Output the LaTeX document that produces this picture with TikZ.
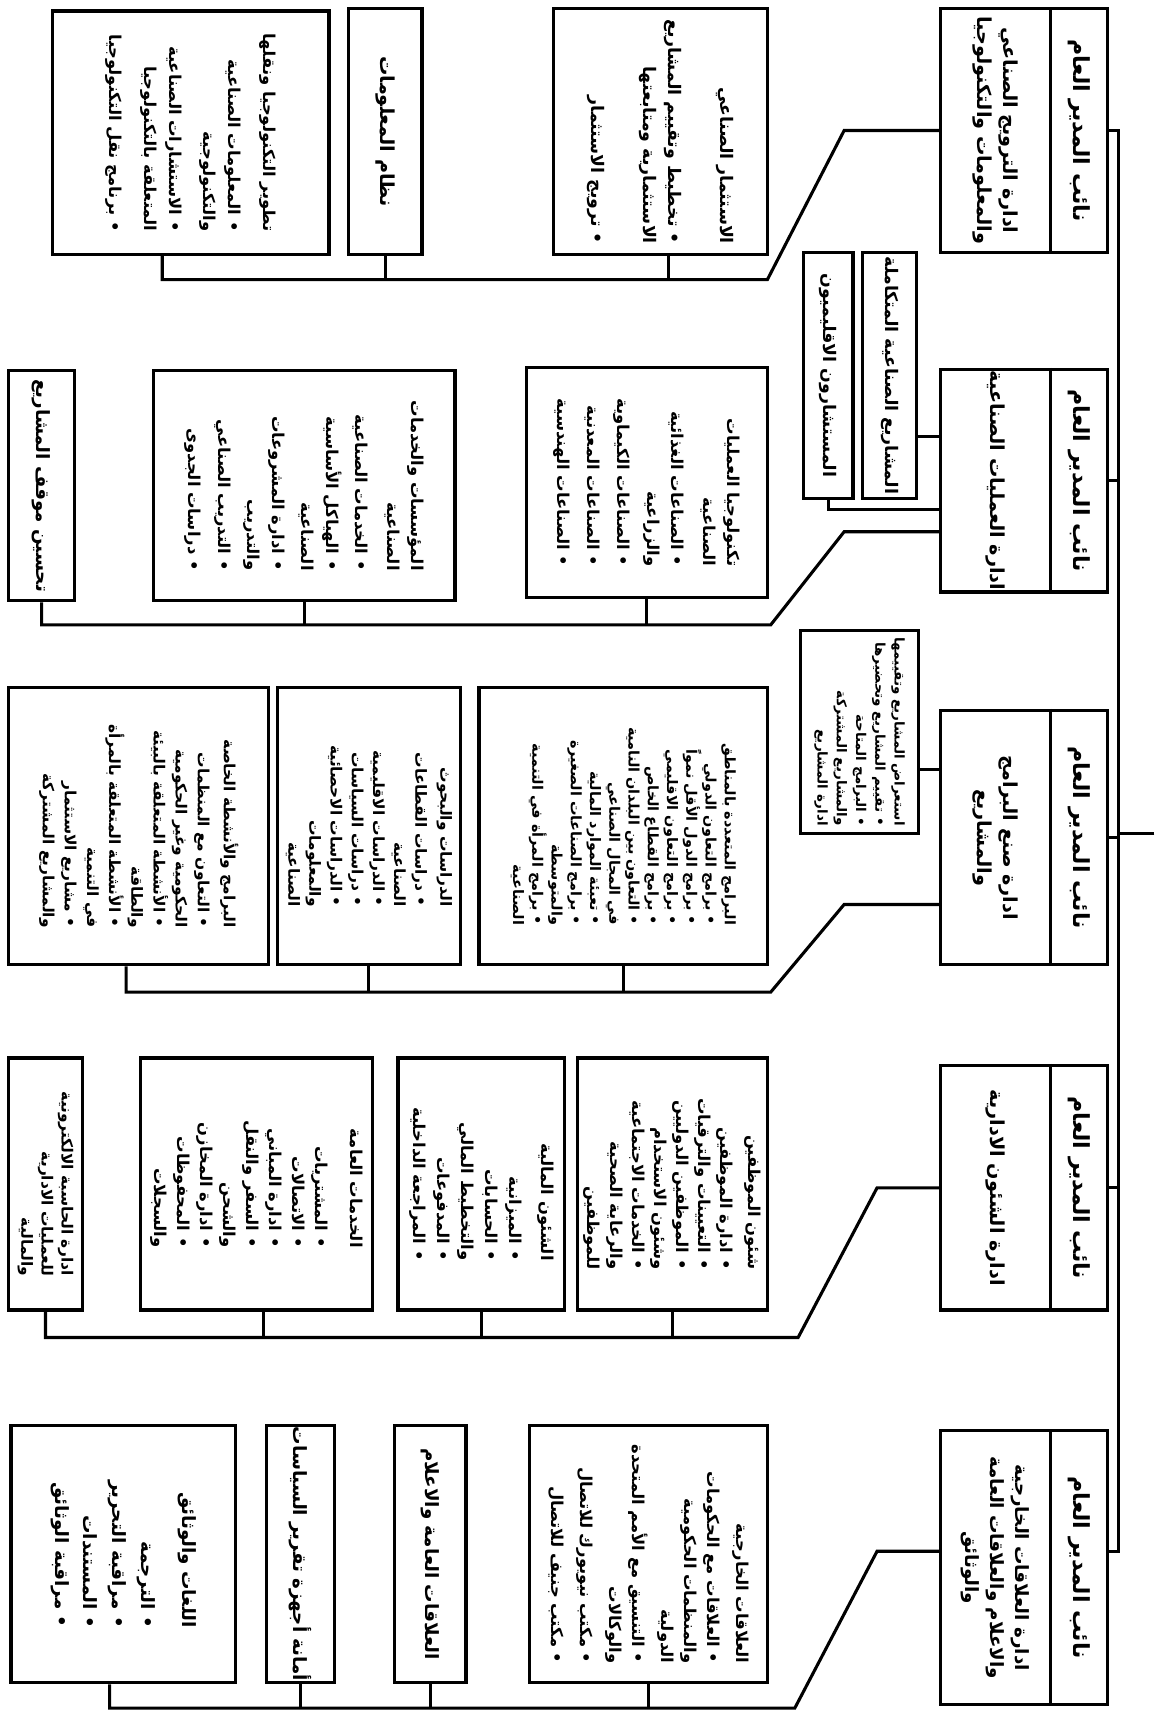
\documentclass[tikz,border=0pt]{standalone}
\usepackage{fontspec}
\newfontfamily\arabicfont[Script=Arabic]{DejaVu Sans}
\TeXXeTstate=1
\usetikzlibrary{fit}
\newcommand{\arl}[1]{\beginR #1\endR}
\tikzset{
  bx/.style={draw, line width=1.7pt, inner sep=0pt},
  ln/.style={line width=1.6pt},
  sz/.style 2 args={font=\arabicfont\bfseries\fontsize{#1}{#2}\selectfont},
  tx/.style={rotate=-90, align=right, inner sep=0pt, sz={8.5}{12}},
  hd/.style={rotate=-90, align=center, inner sep=0pt, sz={11.5}{14}},
  dp/.style={rotate=-90, align=center, inner sep=0pt, sz={10}{14}},
}
\begin{document}
\begin{tikzpicture}[x=0.02cm,y=-0.02cm]
\useasboundingbox (0,0) rectangle (1053,1568);
\coordinate (dv) at (958,0);
\coordinate (hx) at (984,0);
\coordinate (dx) at (908,0);
\coordinate (trunk) at (1020,0);
\coordinate (ext) at (1053,760);

% ---- deputy director boxes
\foreach \n/\ya/\yb in {1/8/230,2/337/540,3/648/880,4/972/1195,5/1305/1555}{
  \node[bx, fit={(858,\ya) (1010,\yb)}] (v\n) {};
  \draw[ln] (v\n.north -| dv) -- (v\n.south -| dv);
  \node[hd] (vh\n) at (v\n.center -| hx) {\arl{نائب المدير العام}};
}
\node[dp] (vd1) at (v1.center -| dx) {\arl{ادارة الترويج الصناعي}\\\arl{والمعلومات والتكنولوجيا}};
\node[dp] (vd2) at (v2.center -| dx) {\arl{ادارة العمليات الصناعية}};
\node[dp] (vd3) at (v3.center -| dx) {\arl{ادارة صنع البرامج}\\\arl{والمشاريع}};
\node[dp] (vd4) at (v4.center -| dx) {\arl{ادارة الشئون الادارية}};
\node[dp, sz={9.5}{13}] (vd5) at (v5.center -| dx) {\arl{ادارة العلاقات الخارجية}\\\arl{والاعلام والعلاقات العامة}\\\arl{والوثائق}};

% ---- trunk
\coordinate (t5) at ([yshift=0.3cm]v5.east);
\draw[ln] (v1.east) -- (v1.east -| trunk) -- (t5 -| trunk) -- (t5);
\foreach \n in {2,3,4}{ \draw[ln] (v\n.east) -- (v\n.east -| trunk); }
\draw[ln] (ext) -- (ext -| trunk);

% ---- row 1
\node[bx, fit={(505,8) (700,232)}] (r1a) {};
\node[bx, fit={(318,8) (385,232)}] (r1b) {};
\node[bx, fit={(48,10) (300,232)}] (r1c) {};
\node[tx, sz={9}{13}] (r1at) at (r1a.center) {\arl{الاستثمار الصناعي}\\[14pt]\arl{• تخطيط وتقييم المشاريع}\\\arl{الاستثمارية ومتابعتها}\\[14pt]\arl{• ترويج الاستثمار}};
\node[tx, sz={10}{13}] (r1bt) at (r1b.center) {\arl{نظام المعلومات}};
\node[tx, sz={8.5}{13}] (r1ct) at (r1c.center) {\arl{تطوير التكنولوجيا ونقلها}\\[5pt]\arl{• المعلومات الصناعية}\\\arl{والتكنولوجية}\\[5pt]\arl{• الاستشارات الصناعية}\\\arl{المتعلقة بالتكنولوجيا}\\[5pt]\arl{• برنامج نقل التكنولوجيا}};
\coordinate (j1) at (700,255);
\coordinate (k1) at (770,119);
\draw[ln] ([xshift=-0.52cm]r1c.south) |- (j1) -- (k1) -- (k1 -| v1.west);
\draw[ln] ([xshift=0.15cm]r1a.south) -- ([xshift=0.15cm]r1a.south |- j1);
\draw[ln] (r1b.south) -- (r1b.south |- j1);

% ---- row 2
\node[bx, fit={(480,335) (700,545)}] (r2a) {};
\node[bx, fit={(140,338) (415,548)}] (r2b) {};
\node[bx, fit={(8,338) (68,548)}] (r2c) {};
\node[bx, fit={(787,230) (836,455)}] (s2a) {};
\node[bx, fit={(733,230) (778,455)}] (s2b) {};
\node[tx, sz={8.5}{12.5}] (r2at) at (r2a.center) {\arl{تكنولوجيا العمليات}\\\arl{الصناعية}\\[4pt]\arl{• الصناعات الغذائية}\\\arl{والزراعية}\\[3pt]\arl{• الصناعات الكيماوية}\\[3pt]\arl{• الصناعات المعدنية}\\[3pt]\arl{• الصناعات الهندسية}};
\node[tx, sz={8.5}{12.5}] (r2bt) at (r2b.center) {\arl{المؤسسات والخدمات}\\\arl{الصناعية}\\[4pt]\arl{• الخدمات الصناعية}\\[3pt]\arl{• الهياكل الأساسية}\\\arl{الصناعية}\\[3pt]\arl{• ادارة المشروعات}\\\arl{والتدريب}\\[3pt]\arl{• التدريب الصناعي}\\[3pt]\arl{• دراسات الجدوى}};
\node[tx, sz={9.5}{13}] (r2ct) at (r2c.center) {\arl{تحسين موقف المشاريع}};
\node[tx, sz={9}{13}] (s2at) at (s2a.center) {\arl{المشاريع الصناعية المتكاملة}};
\node[tx, sz={9}{13}] (s2bt) at (s2b.center) {\arl{المستشارون الاقليميون}};
\coordinate (j2) at (703,570);
\coordinate (k2) at (770,485);
\draw[ln] (r2c.south) |- (j2) -- (k2) -- (k2 -| v2.west);
\draw[ln] (r2a.south) -- (r2a.south |- j2);
\draw[ln] (r2b.south) -- (r2b.south |- j2);
\coordinate (t2a) at ([yshift=-1.11cm]s2a.east);
\draw[ln] (t2a) -- (t2a -| v2.west);
\draw[ln] (s2b.south) |- ([yshift=-0.53cm]v2.west);

% ---- row 3
\node[bx, fit={(437,627) (700,880)}] (r3a) {};
\node[bx, fit={(253,627) (420,880)}] (r3b) {};
\node[bx, fit={(8,627) (245,880)}] (r3c) {};
\node[bx, fit={(730,575) (838,760)}] (s3) {};
\node[tx, sz={7.5}{10}] (r3at) at (r3a.center) {\arl{البرامج المتعددة بالمناطق}\\\arl{• برامج التعاون الدولي}\\\arl{• برامج الدول الأقل نمواً}\\\arl{• برامج التعاون الاقليمي}\\\arl{• برامج القطاع الخاص}\\\arl{• التعاون بين البلدان النامية}\\\arl{في المجال الصناعي}\\\arl{• تعبئة الموارد المالية}\\\arl{• برامج الصناعات الصغيرة}\\\arl{والمتوسطة}\\\arl{• برامج المرأة في التنمية}\\\arl{الصناعية}};
\node[tx, sz={8}{11}] (r3bt) at (r3b.center) {\arl{الدراسات والبحوث}\\[2pt]\arl{• دراسات القطاعات}\\\arl{الصناعية}\\\arl{• الدراسات الاقليمية}\\\arl{• دراسات السياسات}\\\arl{• الدراسات الاحصائية}\\\arl{والمعلومات}\\\arl{الصناعية}};
\node[tx, sz={8}{11.5}] (r3ct) at (r3c.center) {\arl{البرامج والأنشطة الخاصة}\\[2pt]\arl{• التعاون مع المنظمات}\\\arl{الحكومية وغير الحكومية}\\\arl{• الأنشطة المتعلقة بالبيئة}\\\arl{والطاقة}\\\arl{• الأنشطة المتعلقة بالمرأة}\\\arl{في التنمية}\\\arl{• مشاريع الاستثمار}\\\arl{والمشاريع المشتركة}};
\node[tx, sz={7}{10}] (s3t) at (s3.center) {\arl{استعراض المشاريع وتقييمها}\\\arl{• تقييم المشاريع وتحضيرها}\\\arl{• البرامج المتاحة}\\\arl{والمشاريع المشتركة}\\\arl{ادارة المشاريع}};
\coordinate (j3) at (703,905);
\coordinate (k3) at (770,825);
\draw[ln] ([xshift=-0.23cm]r3c.south) |- (j3) -- (k3) -- (k3 -| v3.west);
\draw[ln] (r3a.south) -- (r3a.south |- j3);
\draw[ln] (r3b.south) -- (r3b.south |- j3);
\coordinate (t3) at ([yshift=-0.69cm]s3.east);
\draw[ln] (t3) -- (t3 -| v3.west);

% ---- row 4
\node[bx, fit={(527,965) (700,1195)}] (r4a) {};
\node[bx, fit={(363,965) (515,1195)}] (r4b) {};
\node[bx, fit={(128,965) (340,1195)}] (r4c) {};
\node[bx, fit={(8,965) (75,1195)}] (r4d) {};
\node[tx, sz={8.5}{11.5}] (r4at) at (r4a.center) {\arl{شئون الموظفين}\\[3pt]\arl{• ادارة الموظفين}\\\arl{• التعيينات والترقيات}\\\arl{• الموظفين الدوليين}\\\arl{وشئون الاستخدام}\\\arl{• الخدمات الاجتماعية}\\\arl{والرعاية الصحية}\\\arl{للموظفين}};
\node[tx, sz={8.5}{12.5}] (r4bt) at (r4b.center) {\arl{الشئون المالية}\\[4pt]\arl{• الميزانية}\\\arl{• الحسابات}\\\arl{والتخطيط المالي}\\\arl{• المدفوعات}\\\arl{• المراجعة الداخلية}};
\node[tx, sz={8.5}{12}] (r4ct) at (r4c.center) {\arl{الخدمات العامة}\\[6pt]\arl{• المشتريات}\\\arl{• الاتصالات}\\\arl{• ادارة المباني}\\\arl{• السفر والنقل}\\\arl{والشحن}\\\arl{• ادارة المخازن}\\\arl{• المحفوظات}\\\arl{والسجلات}};
\node[tx, sz={8}{10.5}] (r4dt) at (r4d.center) {\arl{ادارة الحاسبة الالكترونية}\\\arl{للعمليات الادارية}\\\arl{والمالية}};
\coordinate (j4) at (728,1220);
\coordinate (k4) at (800,1083.5);
\draw[ln] (r4d.south) |- (j4) -- (k4) -- (k4 -| v4.west);
\draw[ln] (r4a.south) -- (r4a.south |- j4);
\draw[ln] (r4b.south) -- (r4b.south |- j4);
\draw[ln] ([xshift=0.12cm]r4c.south) -- ([xshift=0.12cm]r4c.south |- j4);

% ---- row 5
\node[bx, fit={(483,1300) (700,1535)}] (r5a) {};
\node[bx, fit={(360,1300) (425,1535)}] (r5b) {};
\node[bx, fit={(243,1300) (305,1535)}] (r5c) {};
\node[bx, fit={(10,1300) (215,1535)}] (r5d) {};
\node[tx, sz={8.5}{12}] (r5at) at (r5a.center) {\arl{العلاقات الخارجية}\\[3pt]\arl{• العلاقات مع الحكومات}\\\arl{والمنظمات الحكومية}\\\arl{الدولية}\\[3pt]\arl{• التنسيق مع الأمم المتحدة}\\\arl{والوكالات}\\[3pt]\arl{• مكتب نيويورك للاتصال}\\[3pt]\arl{• مكتب جنيف للاتصال}};
\node[tx, sz={9.5}{13}] (r5bt) at (r5b.center) {\arl{العلاقات العامة والاعلام}};
\node[tx, sz={9.5}{13}] (r5ct) at (r5c.center) {\arl{أمانة أجهزة تقرير السياسات}};
\node[tx, sz={9.5}{15}] (r5dt) at (r5d.center) {\arl{اللغات والوثائق}\\[6pt]\arl{• الترجمة}\\\arl{• مراقبة التحرير}\\\arl{• المستندات}\\\arl{• مراقبة الوثائق}};
\coordinate (j5) at (725,1558);
\coordinate (k5) at (800,1415);
\draw[ln] ([xshift=-0.25cm]r5d.south) |- (j5) -- (k5) -- (k5 -| v5.west);
\draw[ln] (r5a.south) -- (r5a.south |- j5);
\draw[ln] (r5b.south) -- (r5b.south |- j5);
\draw[ln] (r5c.south) -- (r5c.south |- j5);
\end{tikzpicture}
\end{document}
